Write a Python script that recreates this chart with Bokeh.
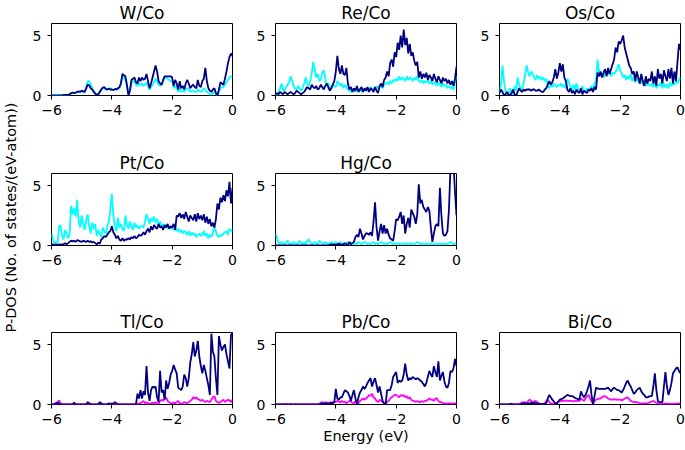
import numpy as np
from bokeh.plotting import figure
from bokeh.models import Range1d, FixedTicker, Label, Spacer
from bokeh.layouts import row, column
from bokeh.embed import file_html
from bokeh.resources import INLINE

# ---------------- data (P-DOS sampled every 0.05 eV from -6 to 0 eV) ----------------
x_ticks = [-6, -4, -2, 0]
x_tick_labels = {-6: "−6", -4: "−4", -2: "−2", 0: "0"}
y_ticks = [0, 5]

w_dark = [0, 0, 0, 0, 0, 0, 0, 0, 0.05, 0.05, 0.05, 0.05, 0.1, 0.2, 0.25, 0.2, 0.25, 0.3, 0.35, 0.3,
          0.4, 0.35, 0.3, 0.6, 0.9, 0.85, 0.6, 0.5, 0.3, 0.15, 0.05, 0.1, 0.3, 0.5, 0.65, 0.7, 0.55, 0.5, 0.55, 0.5,
          0.5, 0.45, 0.55, 0.5, 0.6, 0.7, 1.0, 1.8, 1.7, 1.6, 0.9, 0.0, 0.4, 1.3, 1.4, 1.5, 1.1, 1.0, 1.5, 1.2,
          1.5, 1.3, 1.4, 1.8, 1.2, 0.6, 1.0, 1.5, 2.0, 2.5, 2.0, 1.2, 1.0, 0.9, 1.3, 1.6, 1.6, 1.6, 1.6, 1.6,
          1.5, 0.8, 1.3, 1.0, 0.5, 1.2, 0.6, 0.8, 0.5, 1.0, 1.3, 1.0, 0.6, 0.8, 0.9, 0.7, 0.6, 1.3, 0.8, 0.7,
          1.2, 1.4, 2.3, 1.2, 0.6, 0.4, 0.3, 0.5, 0.6, 0.2, 0.0, 0.5, 1.1, 1.0, 0.9, 1.4, 2.0, 2.7, 3.2, 3.5,
          3.3]
w_light = [0, 0, 0, 0, 0, 0, 0, 0, 0.05, 0.05, 0.05, 0.05, 0.1, 0.15, 0.2, 0.2, 0.2, 0.25, 0.3, 0.3,
           0.35, 0.3, 0.3, 0.7, 1.2, 1.2, 0.9, 0.6, 0.4, 0.2, 0.1, 0.1, 0.3, 0.5, 0.6, 0.6, 0.5, 0.5, 0.6, 0.6,
           0.5, 0.45, 0.5, 0.5, 0.55, 0.6, 0.9, 1.6, 1.5, 1.3, 0.8, 0.1, 0.4, 1.0, 1.2, 1.2, 0.9, 0.8, 1.0, 0.9,
           1.0, 0.8, 0.9, 1.1, 0.8, 0.5, 0.7, 0.9, 1.1, 1.4, 1.2, 0.9, 0.8, 0.9, 1.2, 1.5, 1.5, 1.4, 1.3, 1.2,
           1.2, 0.6, 0.8, 0.6, 0.3, 0.6, 0.3, 0.4, 0.3, 0.5, 0.6, 0.5, 0.3, 0.4, 0.4, 0.3, 0.3, 0.5, 0.4, 0.3,
           0.4, 0.6, 0.5, 0.3, 0.2, 0.1, 0.05, 0.2, 0.3, 0.1, 0.0, 0.3, 0.6, 0.7, 0.7, 0.9, 1.1, 1.3, 1.5, 1.6,
           1.6]

re_dark = [0.1, 0.2, 0.1, 0.3, 0.2, 0.1, 0.3, 0.2, 0.1, 0.2, 0.3, 0.2, 0.1, 0.2, 0.4, 0.3, 0.2, 0.1, 0.2, 0.3,
           0.5, 0.7, 0.6, 0.5, 0.9, 0.7, 0.6, 0.8, 0.5, 0.6, 0.9, 0.7, 0.5, 0.8, 1.0, 0.7, 0.4, 0.6, 0.9, 1.2,
           2.0, 3.3, 2.2, 1.8, 2.5, 1.8, 1.7, 2.3, 1.0, 0.5, 0.7, 0.3, 0.6, 0.4, 0.8, 0.3, 0.5, 0.7, 0.3, 0.6,
           0.4, 0.7, 0.3, 0.6, 0.5, 0.3, 0.7, 0.4, 0.2, 0.8, 1.0, 0.7, 1.3, 1.5, 2.0, 1.6, 2.7, 3.0, 2.4, 3.6,
           3.2, 4.4, 3.8, 5.0, 4.0, 5.5, 4.2, 4.8, 3.5, 4.3, 3.3, 3.6, 2.9, 2.5, 2.8, 1.5, 2.0, 1.4, 1.8, 1.5,
           1.9, 1.3, 1.7, 1.5, 1.2, 1.8, 1.4, 1.1, 1.6, 1.3, 1.0, 1.5, 1.2, 1.4, 1.0, 1.3, 0.9, 1.2, 0.8, 1.4,
           2.4]
re_light = [0.0, 0.1, 0.3, 0.6, 1.0, 0.5, 0.4, 0.7, 0.9, 1.1, 1.6, 1.2, 0.8, 0.6, 0.5, 0.8, 0.6, 0.4, 0.6, 1.0,
            1.5, 1.0, 0.8, 1.2, 1.8, 2.8, 2.2, 1.5, 1.8, 1.2, 1.3, 1.9, 2.1, 1.4, 0.8, 1.0, 0.7, 0.6, 0.9, 0.8,
            0.7, 1.2, 1.0, 0.8, 1.0, 0.6, 0.9, 0.7, 0.5, 0.4, 0.3, 0.5, 0.4, 0.3, 0.5, 0.4, 0.6, 0.3, 0.5, 0.4,
            0.6, 0.4, 0.5, 0.7, 0.4, 0.6, 0.5, 0.8, 0.6, 0.7, 0.8, 0.6, 0.9, 1.0, 1.1, 0.9, 1.2, 1.0, 1.3, 1.2,
            1.4, 1.2, 1.6, 1.3, 1.5, 1.4, 1.2, 1.6, 1.3, 1.5, 1.4, 1.2, 1.5, 1.3, 1.6, 1.2, 1.1, 1.3, 1.0, 1.2,
            1.1, 1.3, 1.0, 1.2, 0.9, 1.1, 1.0, 0.8, 1.1, 0.9, 0.7, 1.0, 0.8, 0.9, 0.6, 0.8, 0.6, 0.7, 0.5, 1.0,
            1.6]

os_dark = [0.2, 0.5, 0.3, 0.0, 0.1, 0.3, 0.1, 0.0, 0.2, 0.5, 0.1, 0.0, 0.3, 0.6, 0.4, 0.3, 0.5, 0.4, 0.5, 0.5,
           0.5, 0.4, 0.5, 0.5, 0.4, 0.4, 0.5, 0.4, 0.3, 0.3, 0.5, 0.6, 0.9, 1.2, 0.9, 1.1, 1.5, 2.2, 1.4, 1.9,
           2.7, 2.0, 2.6, 1.5, 1.2, 0.5, 0.3, 0.6, 0.2, 0.4, 0.1, 0.5, 0.3, 0.2, 0.6, 0.1, 0.4, 0.3, 0.2, 0.5,
           0.4, 0.6, 0.3, 0.7, 0.5, 1.9, 1.6, 2.0, 1.5, 1.9, 2.2, 1.6, 2.3, 1.8, 2.2, 2.6, 3.0, 4.0, 3.6, 4.5,
           4.3, 4.6, 5.0, 4.0, 3.5, 3.0, 2.5, 2.3, 1.8, 2.0, 1.2, 2.0, 1.5, 1.0, 1.8, 1.2, 0.8, 1.6, 1.0, 1.4,
           1.2, 2.0, 1.0, 1.6, 0.8, 2.2, 1.4, 1.8, 1.0, 2.1, 1.6, 1.2, 2.2, 1.4, 2.3, 1.0, 2.0, 1.2, 2.8, 4.3,
           3.8]
os_light = [0.3, 1.0, 2.5, 1.2, 0.3, 0.1, 0.2, 0.6, 0.2, 0.1, 0.8, 0.4, 1.5, 0.9, 0.6, 0.5, 1.0, 1.8, 2.5, 1.9,
            1.6, 2.0, 1.8, 1.5, 1.3, 1.7, 1.4, 1.6, 1.3, 1.5, 1.2, 1.4, 0.8, 0.6, 0.9, 0.7, 1.0, 0.8, 0.7, 0.9,
            0.8, 1.0, 0.7, 0.9, 0.6, 1.4, 1.1, 0.7, 0.4, 0.9, 0.5, 1.0, 0.6, 0.3, 0.5, 0.8, 0.4, 0.3, 0.6, 0.5,
            0.5, 0.8, 0.6, 1.0, 1.2, 3.0, 2.0, 1.6, 1.8, 1.5, 1.8, 2.0, 1.7, 2.1, 1.6, 1.9, 1.8, 2.0, 2.2, 2.6,
            2.1, 1.8, 1.5, 1.7, 1.3, 1.6, 1.4, 1.8, 1.2, 1.5, 1.1, 1.4, 1.2, 1.0, 1.3, 0.9, 1.1, 0.8, 1.0, 0.9,
            0.8, 1.0, 0.7, 1.2, 0.6, 0.9, 0.8, 1.1, 0.6, 1.0, 0.7, 0.9, 0.6, 1.1, 0.8, 1.0, 0.9, 1.2, 1.0, 1.3,
            1.5]

pt_dark = [0.0, 0.1, 0.0, 0.1, 0.0, 0.1, 0.05, 0.1, 0.1, 0.2, 0.1, 0.2, 0.3, 0.4, 0.35, 0.4, 0.3, 0.45, 0.4, 0.35,
           0.3, 0.4, 0.35, 0.3, 0.4, 0.3, 0.35, 0.25, 0.3, 0.2, 0.1, 0.25, 0.15, 0.5, 0.6, 0.8, 0.7, 0.9, 1.1, 1.2,
           1.6, 1.1, 0.9, 0.6, 0.8, 0.5, 0.4, 0.6, 0.4, 0.5, 0.5, 0.6, 0.5, 0.7, 0.6, 0.8, 0.6, 0.7, 0.9, 0.8,
           0.9, 1.1, 0.9, 1.2, 1.4, 1.1, 1.6, 1.3, 1.7, 1.5, 1.4, 1.8, 1.5, 1.6, 1.3, 1.7, 1.5, 1.8, 1.4, 1.6,
           1.5, 1.8, 1.3, 2.5, 2.4, 2.7, 2.3, 2.6, 2.2, 2.8, 2.4, 2.0, 2.5, 2.3, 2.1, 2.6, 2.0, 2.7, 2.2, 2.5,
           2.1, 2.6, 1.9, 2.4, 1.8, 2.2, 1.6, 1.9, 1.5, 2.2, 3.5, 3.0, 4.0, 3.6, 4.2, 3.7, 4.6, 4.1, 5.3, 3.5,
           4.8]
pt_light = [1.0, 0.5, 0.2, 0.3, 0.2, 1.6, 1.7, 0.8, 0.5, 1.3, 1.0, 0.6, 0.9, 3.3, 2.6, 3.1, 2.4, 3.8, 2.0, 1.5,
            2.5, 1.8, 1.3, 2.1, 2.6, 1.6, 1.0, 1.9, 1.4, 1.8, 0.8, 1.3, 1.0, 0.7, 1.5, 1.2, 1.0, 1.6, 2.0, 3.0,
            4.3, 2.5, 1.6, 1.2, 2.3, 1.5, 1.8, 1.4, 1.2, 2.5, 1.7, 1.4, 2.0, 1.6, 1.3, 1.9, 1.5, 1.7, 1.4, 1.6,
            1.6, 1.5, 2.0, 2.6, 2.2, 1.8, 2.3, 2.0, 2.4, 1.9, 2.2, 1.7, 2.0, 1.6, 1.8, 1.5, 1.7, 1.4, 1.6, 1.5,
            1.4, 1.3, 1.5, 1.2, 1.4, 1.1, 1.3, 1.0, 1.2, 1.1, 0.9, 1.2, 0.8, 1.1, 0.9, 1.0, 0.7, 0.9, 1.0, 0.8,
            0.9, 1.2, 0.8, 1.0, 0.6, 0.9, 0.7, 1.1, 1.5, 1.2, 0.8, 0.7, 0.9, 0.8, 1.0, 1.1, 1.2, 0.9, 1.4, 1.2,
            1.3]

hg_dark = [0, 0, 0, 0, 0, 0, 0, 0, 0, 0, 0, 0, 0, 0, 0, 0, 0, 0, 0, 0,
           0, 0, 0, 0, 0, 0, 0, 0, 0, 0, 0, 0, 0, 0, 0, 0, 0.05, 0.1, 0.05, 0.1,
           0.05, 0.1, 0.15, 0.1, 0.05, 0.1, 0.2, 0.1, 0.05, 0.3, 0.1, 0.2, 0.3, 0.7, 0.9, 0.7, 1.4, 1.0, 0.5, 0.8,
           1.0, 1.0, 0.9, 1.1, 0.8, 2.0, 3.6, 1.5, 0.4, 1.2, 1.8, 1.0, 1.7, 1.0, 1.4, 0.9, 0.6, 0.5, 0.4, 1.2,
           2.2, 2.1, 2.4, 2.8, 1.8, 2.5, 1.0, 1.8, 2.3, 1.5, 3.0, 2.7, 2.4, 1.8, 2.6, 5.1, 3.5, 3.8, 3.2, 3.0,
           2.8, 3.2, 2.9, 1.5, 0.3, 1.0, 1.6, 1.8, 1.6, 4.8, 2.5, 1.0, 0.8, 0.9, 1.2, 3.0, 6.5, 7.0, 6.8, 4.5,
           2.5]
hg_light = [1.0, 0.6, 0.2, 0.1, 0.3, 0.2, 0.1, 0.3, 0.4, 0.1, 0.2, 0.1, 0.3, 0.2, 0.1, 0.2, 0.4, 0.2, 0.1, 0.3,
            0.1, 0.4, 0.5, 0.3, 0.1, 0.2, 0.3, 0.2, 0.1, 0.4, 0.3, 0.2, 0.1, 0.3, 0.2, 0.1, 0.2, 0.3, 0.1, 0.2,
            0.3, 0.1, 0.2, 0.3, 0.1, 0.2, 0.1, 0.2, 0.3, 0.1, 0.2, 0.2, 0.1, 0.2, 0.1, 0.3, 0.2, 0.1, 0.2, 0.3,
            0.2, 0.1, 0.2, 0.1, 0.2, 0.3, 0.1, 0.2, 0.1, 0.2, 0.3, 0.2, 0.1, 0.2, 0.1, 0.2, 0.3, 0.2, 0.1, 0.2,
            0.1, 0.2, 0.1, 0.2, 0.1, 0.1, 0.2, 0.1, 0.2, 0.1, 0.2, 0.1, 0.1, 0.2, 0.3, 0.2, 0.1, 0.2, 0.1, 0.1,
            0.2, 0.1, 0.1, 0.2, 0.1, 0.1, 0.2, 0.1, 0.1, 0.2, 0.1, 0.1, 0.2, 0.1, 0.1, 0.2, 0.3, 0.2, 0.1, 0.2,
            0.1]

tl_dark = [0, 0, 0, 0.1, 0.2, 0.05, 0, 0, 0, 0, 0, 0, 0, 0, 0, 0.15, 0, 0, 0, 0,
           0, 0, 0, 0, 0.2, 0.1, 0, 0, 0, 0, 0, 0, 0.2, 0.1, 0, 0, 0, 0, 0.1, 0,
           0.1, 0, 0.2, 0.1, 0, 0, 0, 0, 0, 0, 0, 0, 0, 0, 0, 0, 0, 0.9, 0.5, 1.2,
           0.5, 1.1, 0.8, 3.2, 1.0, 0.3, 1.2, 1.5, 1.4, 1.5, 0.6, 0.2, 2.8, 1.0, 1.2, 0.4, 2.0, 1.3, 1.8, 2.5,
           2.8, 3.3, 2.9, 2.6, 1.4, 1.3, 1.2, 1.5, 2.5, 2.2, 1.5, 2.2, 3.5, 4.2, 5.2, 4.0, 4.5, 5.3, 4.0, 3.2,
           2.6, 3.3, 2.8, 2.2, 1.6, 0.8, 5.9, 4.4, 4.0, 2.2, 0.8, 5.7, 5.0, 4.5, 4.8, 5.0, 4.2, 3.6, 3.0, 5.8,
           6.0]
tl_light = [0, 0, 0.1, 0, 0.1, 0.35, 0.1, 0, 0, 0, 0, 0, 0, 0, 0, 0, 0, 0, 0, 0,
            0, 0, 0, 0, 0, 0, 0, 0, 0, 0, 0, 0, 0, 0, 0, 0, 0, 0, 0, 0,
            0, 0, 0, 0, 0, 0, 0, 0, 0, 0, 0, 0, 0, 0, 0, 0, 0, 0.05, 0.1, 0.1,
            0.2, 0.3, 0.1, 0.2, 0.1, 0.05, 0.1, 0.15, 0.1, 0.2, 0.1, 0.05, 0.3, 0.4, 0.3, 0.5, 0.6, 0.3, 0.2, 0.1,
            0.1, 0.15, 0.1, 0.2, 0.3, 0.1, 0.05, 0.1, 0.2, 0.15, 0.1, 0.2, 0.3, 0.4, 0.6, 0.5, 0.6, 0.45, 0.4, 0.3,
            0.4, 0.3, 0.2, 0.3, 0.25, 0.2, 0.4, 0.6, 0.7, 0.3, 0.2, 0.15, 0.2, 0.3, 0.4, 0.2, 0.3, 0.4, 0.35, 0.2,
            0.4]

pb_dark = [0, 0, 0, 0, 0, 0, 0, 0.02, 0, 0, 0.02, 0, 0, 0, 0, 0, 0, 0, 0, 0,
           0, 0, 0, 0, 0, 0, 0, 0, 0, 0, 0.05, 0.1, 0.05, 0.1, 0.1, 0.05, 0.1, 0.15, 0.1, 0.2,
           1.3, 0.5, 0.4, 0.6, 0.6, 0.9, 1.2, 1.1, 1.0, 0.7, 0.3, 0.8, 1.2, 0.5, 0.0, 0.6, 1.0, 1.2, 1.5, 1.3,
           1.5, 1.8, 2.0, 2.2, 1.5, 1.9, 2.2, 1.6, 1.0, 1.5, 0.9, 0.3, 0.1, 0.0, 1.2, 1.2, 1.2, 1.6, 2.3, 2.5,
           2.7, 1.8, 2.0, 1.9, 2.0, 2.5, 3.4, 2.5, 2.0, 2.2, 2.1, 2.3, 2.2, 2.1, 2.2, 2.1, 2.0, 1.9, 1.7, 1.5,
           1.8, 2.3, 2.8, 2.5, 2.3, 3.2, 2.7, 2.3, 3.6, 2.0, 2.4, 2.7, 1.9, 1.5, 1.4, 1.8, 2.8, 2.7, 3.0, 3.8,
           3.2]
pb_light = [0, 0, 0, 0, 0, 0.02, 0, 0, 0, 0, 0, 0, 0, 0, 0, 0, 0, 0, 0, 0,
            0, 0, 0, 0, 0, 0, 0, 0, 0, 0.05, 0.15, 0.2, 0.1, 0.2, 0.15, 0.1, 0.2, 0.1, 0.2, 0.25,
            0.2, 0.3, 0.25, 0.15, 0.3, 0.2, 0.25, 0.1, 0.2, 0.3, 0.25, 0.15, 0.1, 0.3, 0.2, 0.1, 0.3, 0.4, 0.5, 0.4,
            0.5, 0.6, 0.8, 0.7, 0.9, 0.6, 0.5, 0.3, 0.2, 0.4, 0.3, 0.2, 0.1, 0.1, 0.2, 0.3, 0.5, 0.6, 0.7, 0.8,
            0.8, 0.7, 0.6, 0.8, 0.7, 0.8, 0.6, 0.7, 0.5, 0.6, 0.4, 0.3, 0.3, 0.2, 0.3, 0.2, 0.2, 0.3, 0.2, 0.3,
            0.3, 0.4, 0.5, 0.4, 0.4, 0.3, 0.5, 0.5, 0.3, 0.2, 0.2, 0.1, 0.1, 0.1, 0.05, 0.1, 0.1, 0.05, 0.1, 0.1,
            0.1]

bi_dark = [0, 0, 0, 0, 0, 0, 0, 0.05, 0.05, 0, 0, 0, 0, 0, 0, 0.05, 0.1, 0.1, 0.05, 0.1,
           0.1, 0.15, 0.1, 0.15, 0.1, 0.1, 0.05, 0.05, 0.05, 0.05, 0.05, 0.1, 0.5, 0.8, 0.6, 0.4, 0.25, 0.1, 0.05, 0.25,
           0.4, 0.45, 0.5, 0.6, 0.7, 0.8, 0.75, 0.7, 0.7, 0.65, 0.55, 0.5, 0.45, 0.4, 1.1, 0.8, 0.6, 0.8, 1.1, 1.5,
           2.0, 0.8, 0.0, 0.7, 1.4, 1.35, 1.3, 1.3, 1.3, 1.3, 1.3, 1.35, 1.4, 1.25, 1.1, 1.3, 1.4, 1.3, 1.2, 1.2,
           1.1, 1.0, 1.2, 1.5, 1.8, 2.0, 1.7, 1.5, 1.2, 0.9, 1.0, 1.2, 1.3, 1.4, 1.1, 0.9, 0.8, 0.6, 0.6, 0.65,
           0.7, 0.7, 1.5, 2.6, 1.2, 0.3, 0.2, 0.2, 0.2, 1.5, 2.7, 1.5, 0.8, 1.2, 1.8, 2.6, 2.8, 3.0, 3.1, 2.8,
           2.6]
bi_light = [0, 0, 0, 0, 0, 0, 0, 0, 0, 0, 0, 0, 0, 0, 0.1, 0.2, 0.15, 0.2, 0.1, 0.3,
            0.4, 0.3, 0.2, 0.25, 0.3, 0.2, 0.1, 0.05, 0.05, 0.05, 0.1, 0.3, 0.4, 0.2, 0.1, 0.05, 0.05, 0.1, 0.15, 0.2,
            0.25, 0.3, 0.3, 0.3, 0.35, 0.3, 0.3, 0.3, 0.3, 0.25, 0.3, 0.3, 0.3, 0.3, 0.5, 0.4, 0.3, 0.5, 0.7, 0.8,
            0.5, 0.3, 0.1, 0.3, 0.4, 0.45, 0.5, 0.5, 0.6, 0.7, 0.7, 0.6, 0.5, 0.45, 0.4, 0.4, 0.45, 0.4, 0.4, 0.4,
            0.4, 0.35, 0.4, 0.5, 0.55, 0.6, 0.45, 0.3, 0.25, 0.2, 0.2, 0.2, 0.15, 0.1, 0.1, 0.1, 0.1, 0.1, 0.1, 0.15,
            0.2, 0.25, 0.3, 0.2, 0.15, 0.1, 0.05, 0.05, 0.05, 0.05, 0.1, 0.05, 0.05, 0.05, 0.05, 0.05, 0.05, 0.05, 0.1, 0.1,
            0.1]

# ---------------- styling ----------------
FONT = "DejaVu Sans"
NAVY = "#000080"
CYAN = "#00FFFF"
MAGENTA = "#FF00FF"
FRAME_W, FRAME_H = 181, 72
TOP = 23
BOTTOM = [55, 64, 46]
LABEL_W = 28


def panel(title, light, dark, light_color, r, c, xlabel=None):
    p = figure(frame_width=FRAME_W, frame_height=FRAME_H,
               min_border_left=23, min_border_right=(20 if c < 2 else 5),
               min_border_top=TOP, min_border_bottom=BOTTOM[r],
               x_range=Range1d(-6, 0), y_range=Range1d(0, 6),
               output_backend="svg", toolbar_location=None, title=title)
    p.title.text_font = FONT
    p.title.text_font_size = "17px"
    p.title.text_font_style = "normal"
    p.title.text_color = "black"
    p.title.align = "center"
    p.title.standoff = 0.5
    p.grid.grid_line_color = None
    p.outline_line_color = "black"
    p.outline_line_width = 1
    p.background_fill_color = "white"
    p.border_fill_color = "white"
    p.xaxis.ticker = FixedTicker(ticks=x_ticks)
    p.xaxis.major_label_overrides = x_tick_labels
    p.yaxis.ticker = FixedTicker(ticks=y_ticks)
    for ax in (p.xaxis[0], p.yaxis[0]):
        ax.axis_line_color = None
        ax.major_tick_line_color = "black"
        ax.major_tick_out = 4
        ax.major_tick_in = 0
        ax.minor_tick_out = 0
        ax.minor_tick_in = 0
        ax.major_label_text_font = FONT
        ax.major_label_text_font_size = "14px"
        ax.major_label_text_color = "black"
    p.xaxis.major_label_standoff = 5
    p.yaxis.major_label_standoff = 6
    if xlabel:
        p.xaxis.axis_label = xlabel
        p.xaxis.axis_label_text_font = FONT
        p.xaxis.axis_label_text_font_size = "14.5px"
        p.xaxis.axis_label_text_font_style = "normal"
        p.xaxis.axis_label_text_color = "black"
        p.xaxis.axis_label_standoff = 1
    xl = np.linspace(-6, 0, len(light))
    xd = np.linspace(-6, 0, len(dark))
    p.line(xl, light, line_color=light_color, line_width=1.8)
    p.line(xd, dark, line_color=NAVY, line_width=1.8)
    return p


pW = panel("W/Co", w_light, w_dark, CYAN, 0, 0)
pRe = panel("Re/Co", re_light, re_dark, CYAN, 0, 1)
pOs = panel("Os/Co", os_light, os_dark, CYAN, 0, 2)
pPt = panel("Pt/Co", pt_light, pt_dark, CYAN, 1, 0)
pHg = panel("Hg/Co", hg_light, hg_dark, CYAN, 1, 1)
pTl = panel("Tl/Co", tl_light, tl_dark, MAGENTA, 2, 0)
pPb = panel("Pb/Co", pb_light, pb_dark, MAGENTA, 2, 1, xlabel="Energy (eV)")
pBi = panel("Bi/Co", bi_light, bi_dark, MAGENTA, 2, 2)

total_h = sum(TOP + FRAME_H + b for b in BOTTOM)
lab = figure(width=LABEL_W, height=total_h, x_range=Range1d(0, LABEL_W), y_range=Range1d(0, total_h),
             min_border=0, x_axis_location=None, y_axis_location=None,
             output_backend="svg", toolbar_location=None)
lab.grid.grid_line_color = None
lab.outline_line_color = None
lab.add_layout(Label(x=10, y=total_h - 217, text="P-DOS (No. of states/(eV-atom))",
                     angle=np.pi / 2, text_align="center", text_baseline="middle",
                     text_font=FONT, text_font_size="14.5px", text_color="black"))

r1 = row(pW, pRe, pOs)
r2 = row(pPt, pHg, Spacer(width=23 + FRAME_W + 5, height=TOP + FRAME_H + BOTTOM[1]))
r3 = row(pTl, pPb, pBi)
root = row(lab, column(r1, r2, r3))

open("out.html", "w").write(file_html(root, INLINE))
